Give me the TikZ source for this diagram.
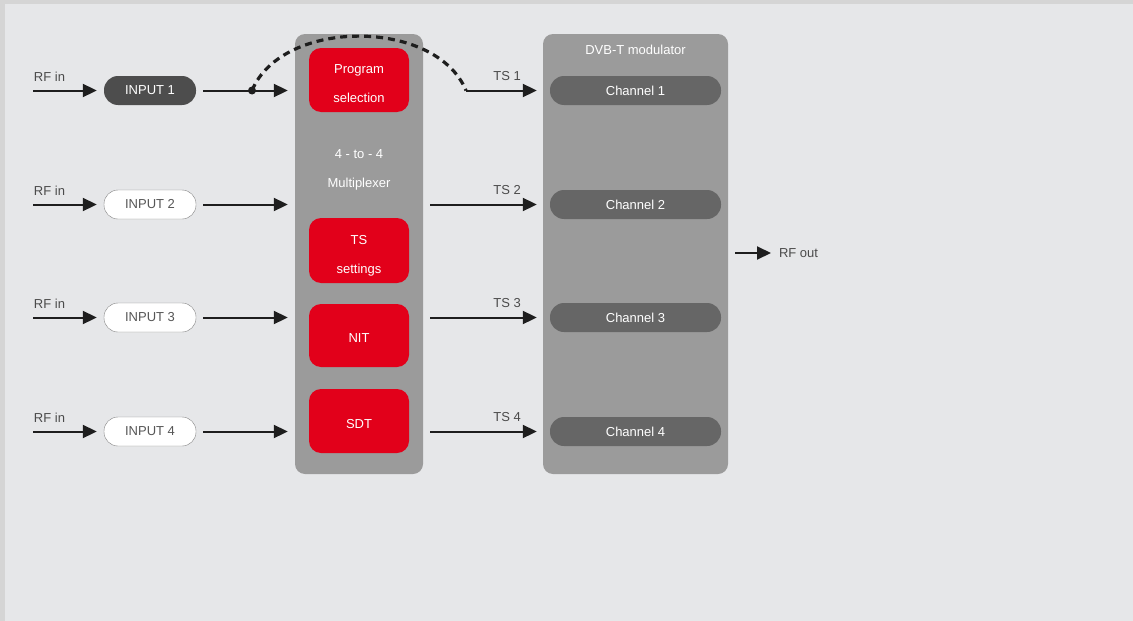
\documentclass[tikz,border=0pt]{standalone}
\usepackage{fontspec}
\setmainfont{Liberation Sans}
\usetikzlibrary{arrows.meta}
\definecolor{bgfill}{HTML}{E6E7E9}
\definecolor{rim}{HTML}{D5D5D5}
\definecolor{boxgray}{HTML}{9B9B9B}
\definecolor{tsred}{HTML}{E2001A}
\definecolor{darkpill}{HTML}{4D4D4D}
\definecolor{chgray}{HTML}{666666}
\definecolor{ink}{HTML}{1E1E1E}
\tikzset{every node/.style={inner sep=0pt, font=\fontsize{13}{29}\selectfont}}
\tikzset{pill/.style={rectangle, rounded corners=14pt, minimum width=92pt, minimum height=29pt}}
\tikzset{redbox/.style={rectangle, rounded corners=12pt, fill=tsred, minimum width=100pt, minimum height=64pt}}
\tikzset{redtxt/.style={text=white, align=center}}
\tikzset{chan/.style={pill, fill=chgray, text=white, minimum width=171pt}}
\tikzset{feed/.style={draw=ink, line width=2pt, -{Triangle[length=14pt,width=13pt]}}}
\tikzset{lbl/.style={text=ink!80}}

\begin{document}
\begin{tikzpicture}[x=1pt, y=-1pt]
      \useasboundingbox (0,0) rectangle (1133,621);
      \fill[rim] (0,0) rectangle (1133,621);
      \fill[bgfill] (5,4) rectangle (1133,621);
      % blocks
      \node[rectangle, rounded corners=10pt, fill=boxgray, minimum width=128pt, minimum height=440pt] (mux) at (359,254) {};
      \node[rectangle, rounded corners=10pt, fill=boxgray, minimum width=185pt, minimum height=440pt] (mod) at (635.5,254) {};
      \node[text=white, align=center] (muxname) at (359,170) {4 - to - 4\\Multiplexer};
      \node[text=white] (modname) at (635.5,50) {DVB-T modulator};
      \node[redbox] (pgm) at (359,80) {};
      \node[redbox, minimum height=65pt] (tsset) at (359,250.5) {};
      \node[redbox, minimum height=63pt] (nit) at (359,335.5) {};
      \node[redbox] (sdt) at (359,421) {};
      \node[redtxt] (pgmtxt) at ([yshift=-4pt]pgm) {Program\\selection};
      \node[redtxt] (tssettxt) at ([yshift=-5pt]tsset) {TS\\settings};
      \node[redtxt] (nittxt) at ([yshift=-3pt]nit) {NIT};
      \node[redtxt] (sdttxt) at ([yshift=-3pt]sdt) {SDT};
      \node[pill, fill=darkpill, text=white] (in1) at (150,90.5) {INPUT 1};
      \node[pill, fill=white, draw=ink!55, text=ink!75] (in2) at (150,204.5) {INPUT 2};
      \node[pill, fill=white, draw=ink!55, text=ink!75] (in3) at (150,317.5) {INPUT 3};
      \node[pill, fill=white, draw=ink!55, text=ink!75] (in4) at (150,431.5) {INPUT 4};
      \node[chan] (ch1) at (635.5,90.5) {Channel 1};
      \node[chan] (ch2) at (635.5,204.5) {Channel 2};
      \node[chan] (ch3) at (635.5,317.5) {Channel 3};
      \node[chan] (ch4) at (635.5,431.5) {Channel 4};
      % free ends
      \coordinate (rf1) at (33,90.5);
      \coordinate (rf2) at (33,204.5);
      \coordinate (rf3) at (33,317.5);
      \coordinate (rf4) at (33,431.5);
      \coordinate (sel) at (252,90.5);
      \coordinate (ts1) at (466,90.5);
      \coordinate (rfo) at (735,253);
      \coordinate (rfout) at (771,253);
      % inputs
      \draw[feed, shorten >=7pt] (rf1) node[lbl, above right, yshift=8pt] {RF in} -- (in1);
      \draw[feed, shorten >=7pt] (rf2) node[lbl, above right, yshift=8pt] {RF in} -- (in2);
      \draw[feed, shorten >=7pt] (rf3) node[lbl, above right, yshift=8pt] {RF in} -- (in3);
      \draw[feed, shorten >=7pt] (rf4) node[lbl, above right, yshift=8pt] {RF in} -- (in4);
      \draw[feed, shorten <=7pt, shorten >=7pt] (in1) -- (mux.west |- in1);
      \draw[feed, shorten <=7pt, shorten >=7pt] (in2) -- (mux.west |- in2);
      \draw[feed, shorten <=7pt, shorten >=7pt] (in3) -- (mux.west |- in3);
      \draw[feed, shorten <=7pt, shorten >=7pt] (in4) -- (mux.west |- in4);
      % program selection bypass
      \fill[ink] (sel) circle (4pt);
      \draw[ink, line width=3.2pt, dash pattern=on 7pt off 5pt] (sel) .. controls (282,18) and (436,18) .. (ts1);
      % transport streams
      \draw[feed, shorten >=13pt] (ts1) -- (ch1);
      \draw[feed, shorten <=7pt, shorten >=13pt] (mux.east |- ch2) -- (ch2);
      \draw[feed, shorten <=7pt, shorten >=13pt] (mux.east |- ch3) -- (ch3);
      \draw[feed, shorten <=7pt, shorten >=13pt] (mux.east |- ch4) -- (ch4);
      \node[lbl, anchor=south east] (ts1lbl) at (521,81) {TS 1};
      \node[lbl, anchor=south east] (ts2lbl) at (521,195) {TS 2};
      \node[lbl, anchor=south east] (ts3lbl) at (521,308) {TS 3};
      \node[lbl, anchor=south east] (ts4lbl) at (521,422) {TS 4};
      % output
      \draw[feed] (rfo) -- (rfout) node[lbl, right=7pt] {RF out};
    \end{tikzpicture}
\end{document}
